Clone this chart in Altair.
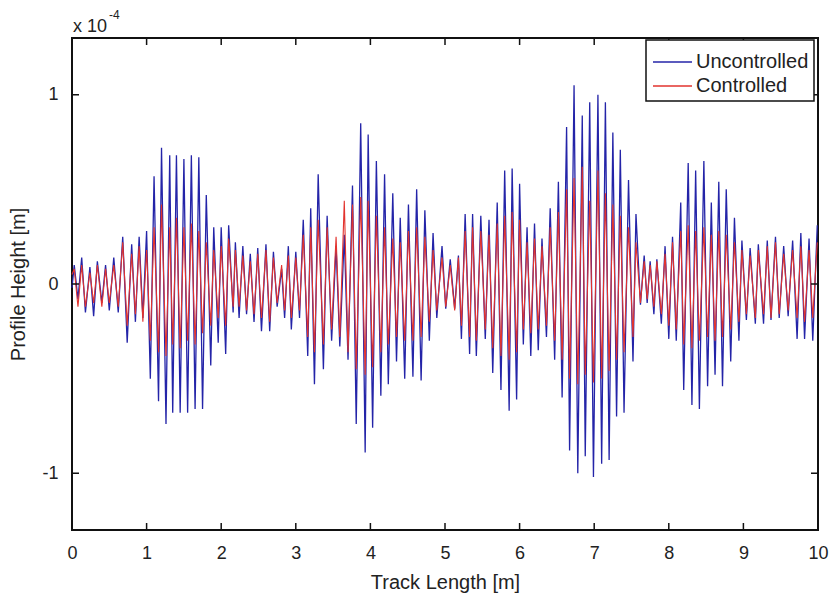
import altair as alt
import pandas as pd

# ---- data (profile height in units of 1e-4 m) ----
start_x = [0.0]
start_unc = [-0.02]
start_con = [0.05]

peak_x = [0.03, 0.13, 0.24, 0.34, 0.45, 0.56, 0.68, 0.80, 0.90, 1.00,
          1.10, 1.20, 1.31, 1.40, 1.50, 1.60, 1.70, 1.80, 1.90, 2.00,
          2.10, 2.19, 2.29, 2.39, 2.49, 2.60, 2.70, 2.81, 2.90, 3.00,
          3.10, 3.20, 3.30, 3.42, 3.54, 3.65, 3.76, 3.87, 3.97, 4.08,
          4.19, 4.30, 4.40, 4.51, 4.62, 4.73, 4.84, 4.96, 5.07, 5.18,
          5.27, 5.37, 5.48, 5.59, 5.70, 5.80, 5.90, 6.00, 6.10, 6.20,
          6.30, 6.41, 6.52, 6.63, 6.73, 6.84, 6.94, 7.05, 7.15, 7.25,
          7.35, 7.46, 7.56, 7.67, 7.75, 7.84, 7.95, 8.05, 8.16, 8.26,
          8.36, 8.47, 8.57, 8.67, 8.77, 8.88, 8.98, 9.09, 9.20, 9.32,
          9.43, 9.54, 9.66, 9.77, 9.88, 9.99]
peak_unc = [0.10, 0.14, 0.09, 0.12, 0.10, 0.14, 0.25, 0.21, 0.25, 0.28,
            0.57, 0.72, 0.68, 0.68, 0.66, 0.68, 0.67, 0.47, 0.30, 0.30,
            0.31, 0.22, 0.20, 0.16, 0.19, 0.21, 0.17, 0.08, 0.20, 0.17,
            0.34, 0.40, 0.58, 0.36, 0.20, 0.26, 0.52, 0.85, 0.79, 0.65,
            0.58, 0.48, 0.35, 0.42, 0.50, 0.39, 0.27, 0.20, 0.13, 0.15,
            0.37, 0.37, 0.36, 0.34, 0.43, 0.60, 0.61, 0.53, 0.30, 0.32,
            0.24, 0.40, 0.54, 0.83, 1.05, 0.89, 0.96, 1.00, 0.96, 0.80,
            0.71, 0.55, 0.37, 0.15, 0.12, 0.13, 0.20, 0.25, 0.43, 0.64,
            0.60, 0.65, 0.43, 0.54, 0.50, 0.35, 0.23, 0.19, 0.21, 0.23,
            0.25, 0.20, 0.23, 0.27, 0.24, 0.31]
peak_con = [0.08, 0.10, 0.06, 0.10, 0.08, 0.10, 0.22, 0.16, 0.20, 0.18,
            0.30, 0.42, 0.30, 0.35, 0.30, 0.32, 0.28, 0.22, 0.18, 0.20,
            0.24, 0.18, 0.15, 0.12, 0.16, 0.18, 0.14, 0.10, 0.15, 0.14,
            0.26, 0.30, 0.34, 0.30, 0.25, 0.44, 0.42, 0.46, 0.44, 0.36,
            0.30, 0.24, 0.22, 0.28, 0.30, 0.25, 0.18, 0.14, 0.10, 0.14,
            0.28, 0.30, 0.28, 0.26, 0.32, 0.36, 0.38, 0.34, 0.22, 0.24,
            0.20, 0.30, 0.38, 0.50, 0.56, 0.62, 0.44, 0.60, 0.48, 0.42,
            0.36, 0.30, 0.22, 0.12, 0.10, 0.12, 0.16, 0.22, 0.28, 0.31,
            0.28, 0.30, 0.26, 0.28, 0.26, 0.22, 0.18, 0.15, 0.18, 0.20,
            0.22, 0.16, 0.18, 0.20, 0.18, 0.22]

trough_x = [0.08, 0.18, 0.29, 0.40, 0.50, 0.62, 0.74, 0.85, 0.95, 1.05,
            1.16, 1.26, 1.35, 1.45, 1.55, 1.65, 1.75, 1.86, 1.96, 2.06,
            2.16, 2.24, 2.34, 2.44, 2.54, 2.65, 2.75, 2.85, 2.94, 3.05,
            3.16, 3.25, 3.37, 3.48, 3.59, 3.70, 3.81, 3.93, 4.03, 4.14,
            4.24, 4.35, 4.46, 4.57, 4.68, 4.79, 4.89, 5.01, 5.13, 5.22,
            5.33, 5.42, 5.54, 5.64, 5.75, 5.86, 5.96, 6.05, 6.15, 6.25,
            6.36, 6.47, 6.57, 6.67, 6.78, 6.88, 6.99, 7.10, 7.20, 7.30,
            7.40, 7.52, 7.62, 7.71, 7.80, 7.90, 8.00, 8.10, 8.20, 8.31,
            8.41, 8.52, 8.62, 8.72, 8.83, 8.94, 9.04, 9.16, 9.27, 9.37,
            9.48, 9.60, 9.72, 9.82, 9.93]
trough_unc = [-0.08, -0.15, -0.17, -0.10, -0.14, -0.15, -0.31, -0.20, -0.18, -0.50,
              -0.62, -0.74, -0.68, -0.68, -0.68, -0.66, -0.66, -0.43, -0.31, -0.37,
              -0.15, -0.18, -0.16, -0.20, -0.25, -0.25, -0.12, -0.18, -0.24, -0.18,
              -0.38, -0.53, -0.45, -0.30, -0.33, -0.40, -0.74, -0.89, -0.76, -0.59,
              -0.53, -0.41, -0.50, -0.49, -0.51, -0.30, -0.18, -0.13, -0.13, -0.29,
              -0.37, -0.38, -0.29, -0.47, -0.56, -0.67, -0.61, -0.32, -0.38, -0.35,
              -0.28, -0.40, -0.60, -0.88, -1.00, -0.91, -1.02, -0.95, -0.93, -0.70,
              -0.68, -0.41, -0.11, -0.10, -0.16, -0.21, -0.29, -0.30, -0.56, -0.64,
              -0.66, -0.54, -0.48, -0.54, -0.41, -0.30, -0.19, -0.21, -0.21, -0.19,
              -0.18, -0.17, -0.29, -0.29, -0.30]
trough_con = [-0.12, -0.12, -0.10, -0.12, -0.10, -0.12, -0.22, -0.16, -0.20, -0.30,
              -0.36, -0.38, -0.32, -0.34, -0.30, -0.32, -0.26, -0.22, -0.18, -0.22,
              -0.12, -0.12, -0.14, -0.16, -0.18, -0.20, -0.10, -0.14, -0.18, -0.14,
              -0.28, -0.36, -0.32, -0.24, -0.28, -0.36, -0.45, -0.48, -0.44, -0.36,
              -0.32, -0.28, -0.30, -0.30, -0.28, -0.20, -0.14, -0.12, -0.14, -0.22,
              -0.28, -0.30, -0.24, -0.34, -0.38, -0.40, -0.36, -0.24, -0.26, -0.24,
              -0.22, -0.30, -0.40, -0.50, -0.53, -0.48, -0.52, -0.50, -0.46, -0.40,
              -0.36, -0.28, -0.10, -0.08, -0.12, -0.16, -0.22, -0.24, -0.32, -0.34,
              -0.30, -0.28, -0.30, -0.28, -0.24, -0.20, -0.16, -0.18, -0.16, -0.18,
              -0.16, -0.14, -0.18, -0.20, -0.18]

x_ticks = [0, 1, 2, 3, 4, 5, 6, 7, 8, 9, 10]
y_ticks = [-1, 0, 1]
series_names = ["Uncontrolled", "Controlled"]
series_colors = ["#2424a8", "#e2332e"]

# ---- assemble tables ----
xs = start_x + peak_x + trough_x
unc = start_unc + peak_unc + trough_unc
con = start_con + peak_con + trough_con
base = pd.DataFrame({"x": xs, "Uncontrolled": unc, "Controlled": con}).sort_values("x")
base["order"] = range(len(base))

W, H = 746, 492
FONT = "Liberation Sans"

xs_scale = alt.Scale(domain=[0, 10], nice=False, zero=False)
ys_scale = alt.Scale(domain=[-1.3, 1.3], nice=False, zero=False)

x_axis = alt.Axis(values=x_ticks, labelExpr="'' + datum.value", ticks=False, tickSize=0,
                  domain=False, grid=False,
                  labelFont=FONT, labelFontSize=18, labelColor="#222", labelPadding=23,
                  labelBaseline="middle", labelFlush=False,
                  title="Track Length [m]", titleFont=FONT, titleFontSize=20,
                  titleFontWeight="normal", titleColor="#222",
                  titleY=52, titleBaseline="middle")
y_axis = alt.Axis(values=y_ticks, labelExpr="'' + datum.value", ticks=False, tickSize=0,
                  domain=False, grid=False,
                  labelFont=FONT, labelFontSize=18, labelColor="#222", labelPadding=14,
                  labelBaseline="middle",
                  title="Profile Height [m]", titleFont=FONT, titleFontSize=20,
                  titleFontWeight="normal", titleColor="#222",
                  titleX=-54, titleY=H / 2, titleAngle=270, titleAlign="center",
                  titleBaseline="middle")

unc_line = alt.Chart(base).mark_line(color=series_colors[0], strokeWidth=1.3).encode(
    x=alt.X("x:Q", scale=xs_scale, axis=x_axis),
    y=alt.Y("Uncontrolled:Q", scale=ys_scale, axis=y_axis),
    order="order:Q",
)
con_line = alt.Chart(base).mark_line(color=series_colors[1], strokeWidth=1.1).encode(
    x=alt.X("x:Q", scale=xs_scale),
    y=alt.Y("Controlled:Q", scale=ys_scale),
    order="order:Q",
)

xt = pd.DataFrame({"v": x_ticks})
yt = pd.DataFrame({"v": y_ticks})
tick_style = dict(color="#111", strokeWidth=1.5)
ticks_bottom = alt.Chart(xt).mark_rule(**tick_style).encode(
    x=alt.X("v:Q", scale=xs_scale), y=alt.value(H), y2=alt.value(H - 7))
ticks_top = alt.Chart(xt).mark_rule(**tick_style).encode(
    x=alt.X("v:Q", scale=xs_scale), y=alt.value(0), y2=alt.value(7))
ticks_left = alt.Chart(yt).mark_rule(**tick_style).encode(
    y=alt.Y("v:Q", scale=ys_scale), x=alt.value(0), x2=alt.value(7))
ticks_right = alt.Chart(yt).mark_rule(**tick_style).encode(
    y=alt.Y("v:Q", scale=ys_scale), x=alt.value(W), x2=alt.value(W - 7))

one = pd.DataFrame({"a": [0]})
exp_text = alt.Chart(one).mark_text(text="x 10", font=FONT, fontSize=18, align="left",
                                    baseline="alphabetic", color="#222").encode(
    x=alt.value(1), y=alt.value(-6))
exp_sup = alt.Chart(one).mark_text(text="-4", font=FONT, fontSize=12, align="left",
                                   baseline="alphabetic", color="#222").encode(
    x=alt.value(37), y=alt.value(-19))

leg = pd.DataFrame({"name": series_names, "color": series_colors, "ypix": [24, 48]})
leg_box = alt.Chart(one).mark_rect(fill="white", stroke="#111", strokeWidth=1.5).encode(
    x=alt.value(574), x2=alt.value(742), y=alt.value(2), y2=alt.value(63))
leg_lines = alt.Chart(leg).mark_rule(strokeWidth=1.3).encode(
    x=alt.value(581), x2=alt.value(620), y=alt.Y("ypix:Q", scale=None),
    color=alt.Color("color:N", scale=None))
leg_text = alt.Chart(leg).mark_text(font=FONT, fontSize=20, align="left",
                                    baseline="middle", color="#222").encode(
    x=alt.value(624), y=alt.Y("ypix:Q", scale=None), text="name:N")

chart = alt.layer(
    unc_line, con_line, ticks_bottom, ticks_top, ticks_left, ticks_right,
    exp_text, exp_sup, leg_box, leg_lines, leg_text,
).properties(
    width=W, height=H,
    padding={"left": 72, "top": 38, "right": 12, "bottom": 70},
    autosize=alt.AutoSizeParams(type="none"),
    background="white",
).configure_view(stroke="#111", strokeWidth=2)

chart.save("out.html", embed_options={"renderer": "svg", "actions": False})
